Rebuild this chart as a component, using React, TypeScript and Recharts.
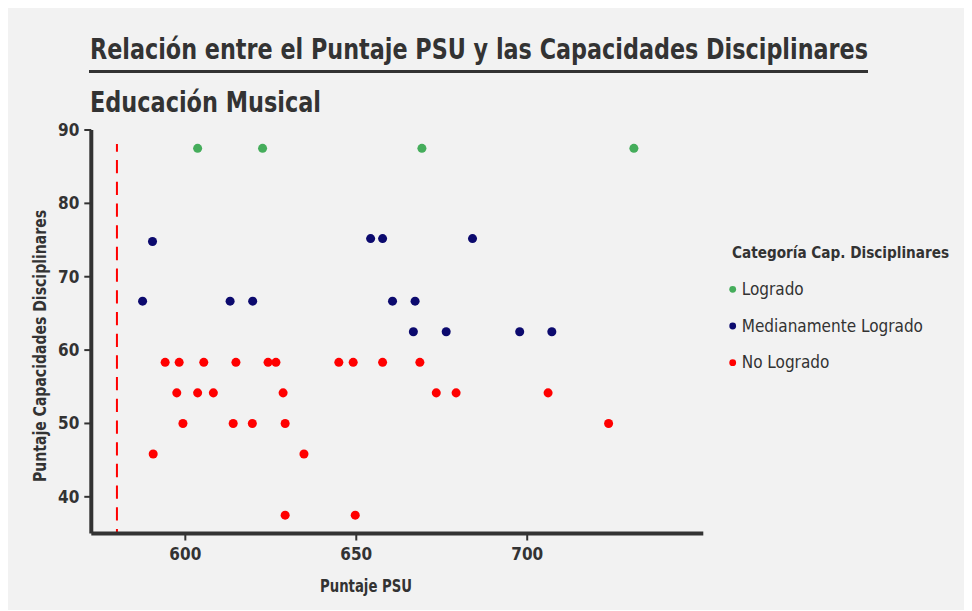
import { ScatterChart, Scatter, XAxis, YAxis, ZAxis, ReferenceLine, Legend } from "recharts";

const FONT = "'Liberation Sans Narrow', 'DejaVu Sans Condensed', 'Arial Narrow', sans-serif";
const INK = "#333333";

// categories and their colours
const categories = ["Logrado", "Medianamente Logrado", "No Logrado"];
const categoryColors = ["#45ad5b", "#0c0a6e", "#ff0000"];

// Logrado
const logradoPsu = [603.6, 622.6, 669.2, 731.2];
const logradoCap = [87.5, 87.5, 87.5, 87.5];

// Medianamente Logrado
const medianoPsu = [590.4, 587.5, 613.1, 619.7, 654.2, 657.7, 684.0, 660.6, 667.2, 666.7, 676.3, 697.8, 707.2];
const medianoCap = [74.8, 66.67, 66.67, 66.67, 75.2, 75.2, 75.2, 66.67, 66.67, 62.5, 62.5, 62.5, 62.5];

// No Logrado
const noLogradoPsu = [
  594.1, 598.2, 605.4, 614.8, 624.2, 626.5, 644.9, 649.1, 657.7, 668.6,
  597.5, 603.6, 608.2, 628.6, 673.4, 679.2, 706.1,
  599.3, 614.0, 619.6, 629.2, 723.8,
  590.6, 634.7,
  629.2, 649.7,
];
const noLogradoCap = [
  58.33, 58.33, 58.33, 58.33, 58.33, 58.33, 58.33, 58.33, 58.33, 58.33,
  54.17, 54.17, 54.17, 54.17, 54.17, 54.17, 54.17,
  50, 50, 50, 50, 50,
  45.83, 45.83,
  37.5, 37.5,
];

const psuCutoff = 580;
const xTicks = [600, 650, 700];
const yTicks = [40, 50, 60, 70, 80, 90];

const toPoints = (xs: number[], ys: number[]) => xs.map((psu, i) => ({ psu, cap: ys[i] }));
const seriesData = [
  toPoints(logradoPsu, logradoCap),
  toPoints(medianoPsu, medianoCap),
  toPoints(noLogradoPsu, noLogradoCap),
];

const W = 956;
const H = 602;

const renderLegend = (props: any) => {
  const payload = props.payload || [];
  return (
    <svg width={246} height={160} style={{ display: "block" }}>
      <text x={14} y={25} fontFamily={FONT} fontWeight={700} fontSize={16} fill={INK} textLength={217} lengthAdjust="spacingAndGlyphs">
        Categoría Cap. Disciplinares
      </text>
      {payload.map((entry: any, i: number) => {
        const base = 62 + i * 36.7;
        return (
          <g key={entry.value}>
            <circle cx={14.7} cy={base - 5.7} r={3.4} fill={entry.color} />
            <text x={23.7} y={base} fontFamily={FONT} fontSize={17} fill={INK}>
              {entry.value}
            </text>
          </g>
        );
      })}
    </svg>
  );
};

export default function App() {
  return (
    <div style={{ position: "relative", width: W, height: H, background: "#f2f2f2", fontFamily: FONT }}>
      <ScatterChart
        width={W}
        height={H}
        margin={{ top: 122, right: 260.7, bottom: 36.5, left: 33.3 }}
      >
        <XAxis
          type="number"
          dataKey="psu"
          domain={[572.5, 751.5]}
          ticks={xTicks}
          height={40}
          allowDataOverflow
          axisLine={{ stroke: INK, strokeWidth: 4 }}
          tickLine={{ stroke: INK, strokeWidth: 2 }}
          tickSize={7}
          tickMargin={7}
          tick={{ fill: INK, fontSize: 17, fontWeight: 700, fontFamily: FONT }}
        />
        <YAxis
          type="number"
          dataKey="cap"
          domain={[35, 90]}
          ticks={yTicks}
          width={50}
          allowDataOverflow
          axisLine={{ stroke: INK, strokeWidth: 4 }}
          tickLine={{ stroke: INK, strokeWidth: 2 }}
          tickSize={7}
          tickMargin={5}
          tick={{ fill: INK, fontSize: 17, fontWeight: 700, fontFamily: FONT }}
        />
        <ZAxis range={[42, 42]} />
        {/* cut-off line: drawn from just under the top of the panel down to the axis */}
        <ReferenceLine
          segment={[{ x: psuCutoff, y: 88.1 }, { x: psuCutoff, y: 35 }]}
          stroke="#ff0000"
          strokeWidth={2}
          strokeDasharray="13.3 8.4"
          strokeDashoffset={5.6}
        />
        {categories.map((name, i) => (
          <Scatter
            key={name}
            name={name}
            data={seriesData[i]}
            fill={categoryColors[i]}
            isAnimationActive={false}
          />
        ))}
        <Legend
          layout="vertical"
          align="center"
          verticalAlign="middle"
          width={246}
          height={160}
          content={renderLegend}
          wrapperStyle={{ position: "absolute", left: 710, top: 225, width: 246, height: 160 }}
        />
      </ScatterChart>

      <svg width={W} height={H} style={{ position: "absolute", left: 0, top: 0, pointerEvents: "none" }}>
        <text x={82} y={50.5} fontFamily={FONT} fontWeight={700} fontSize={27.5} fill={INK} textLength={778} lengthAdjust="spacingAndGlyphs">
          Relación entre el Puntaje PSU y las Capacidades Disciplinares
        </text>
        <line x1={81} x2={860} y1={63.5} y2={63.5} stroke={INK} strokeWidth={3} />
        <text x={82} y={103.5} fontFamily={FONT} fontWeight={700} fontSize={27.5} fill={INK} textLength={231} lengthAdjust="spacingAndGlyphs">
          Educación Musical
        </text>
        <text x={358} y={584} textAnchor="middle" fontFamily={FONT} fontWeight={700} fontSize={17} fill={INK} textLength={92} lengthAdjust="spacingAndGlyphs">
          Puntaje PSU
        </text>
        <text
          x={0}
          y={0}
          transform="translate(38, 338) rotate(-90)"
          textAnchor="middle"
          fontFamily={FONT}
          fontWeight={700}
          fontSize={17}
          fill={INK}
          textLength={272}
          lengthAdjust="spacingAndGlyphs"
        >
          Puntaje Capacidades Disciplinares
        </text>
      </svg>
    </div>
  );
}
